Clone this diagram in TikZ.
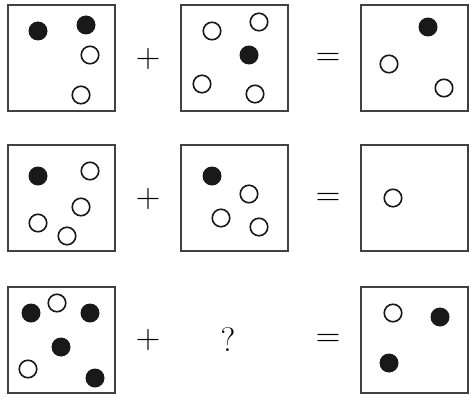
\documentclass[tikz,border=0pt]{standalone}
\usepackage{fontspec}
\usepackage{tikz}
\usetikzlibrary{positioning}

\begin{document}
\begin{tikzpicture}[
    x=1pt, y=-1pt,
    panel/.style={rectangle, draw=black!75, line width=2pt, minimum width=107pt, minimum height=106pt, inner sep=0pt},
    full dot/.style={circle, fill=black!90, minimum size=19pt, inner sep=0pt},
    empty dot/.style={circle, draw=black!90, line width=1.6pt, fill=white, minimum size=17.5pt, inner sep=0pt},
    sign/.style={font=\fontsize{34}{40}\selectfont, inner sep=0pt, text=black},
]
\useasboundingbox (0,0) rectangle (470,396);

% panels
\node[panel] (a1) at (61.5,58) {};
\node[panel] (a2) at (234.5,58) {};
\node[panel] (a3) at (414.5,58) {};
\node[panel] (b1) at (61.5,198) {};
\node[panel] (b2) at (234.5,198) {};
\node[panel] (b3) at (414.5,198) {};
\node[panel] (c1) at (61.5,340) {};
\node[panel] (c3) at (414.5,340) {};

% signs
\node[sign] (plusA) at (148,59) {+};
\node[sign] (eqA) at (328,59) {=};
\node[sign] (plusB) at (148,199) {+};
\node[sign] (eqB) at (328,199) {=};
\node[sign] (plusC) at (148,340) {+};
\node[sign] (ask) at (228,340) {?};
\node[sign] (eqC) at (328,340) {=};

% filled dots
\foreach \x/\y [count=\k] in {38/31, 86/25, 249/55, 428/27,
    38/176, 212/176,
    31/313, 90/313, 61/347, 95/378, 440/317, 389/363}
  \node[full dot] (f\k) at (\x,\y) {};

% open dots
\foreach \x/\y [count=\k] in {90/55, 81/95, 212/31, 259/22, 202/84, 255/94, 389/64, 444/88,
    90/171, 81/207, 38/223, 67/236, 249/194, 221/218, 259/227, 393/198,
    57/303, 28/369, 393/313}
  \node[empty dot] (o\k) at (\x,\y) {};
\end{tikzpicture}
\end{document}
